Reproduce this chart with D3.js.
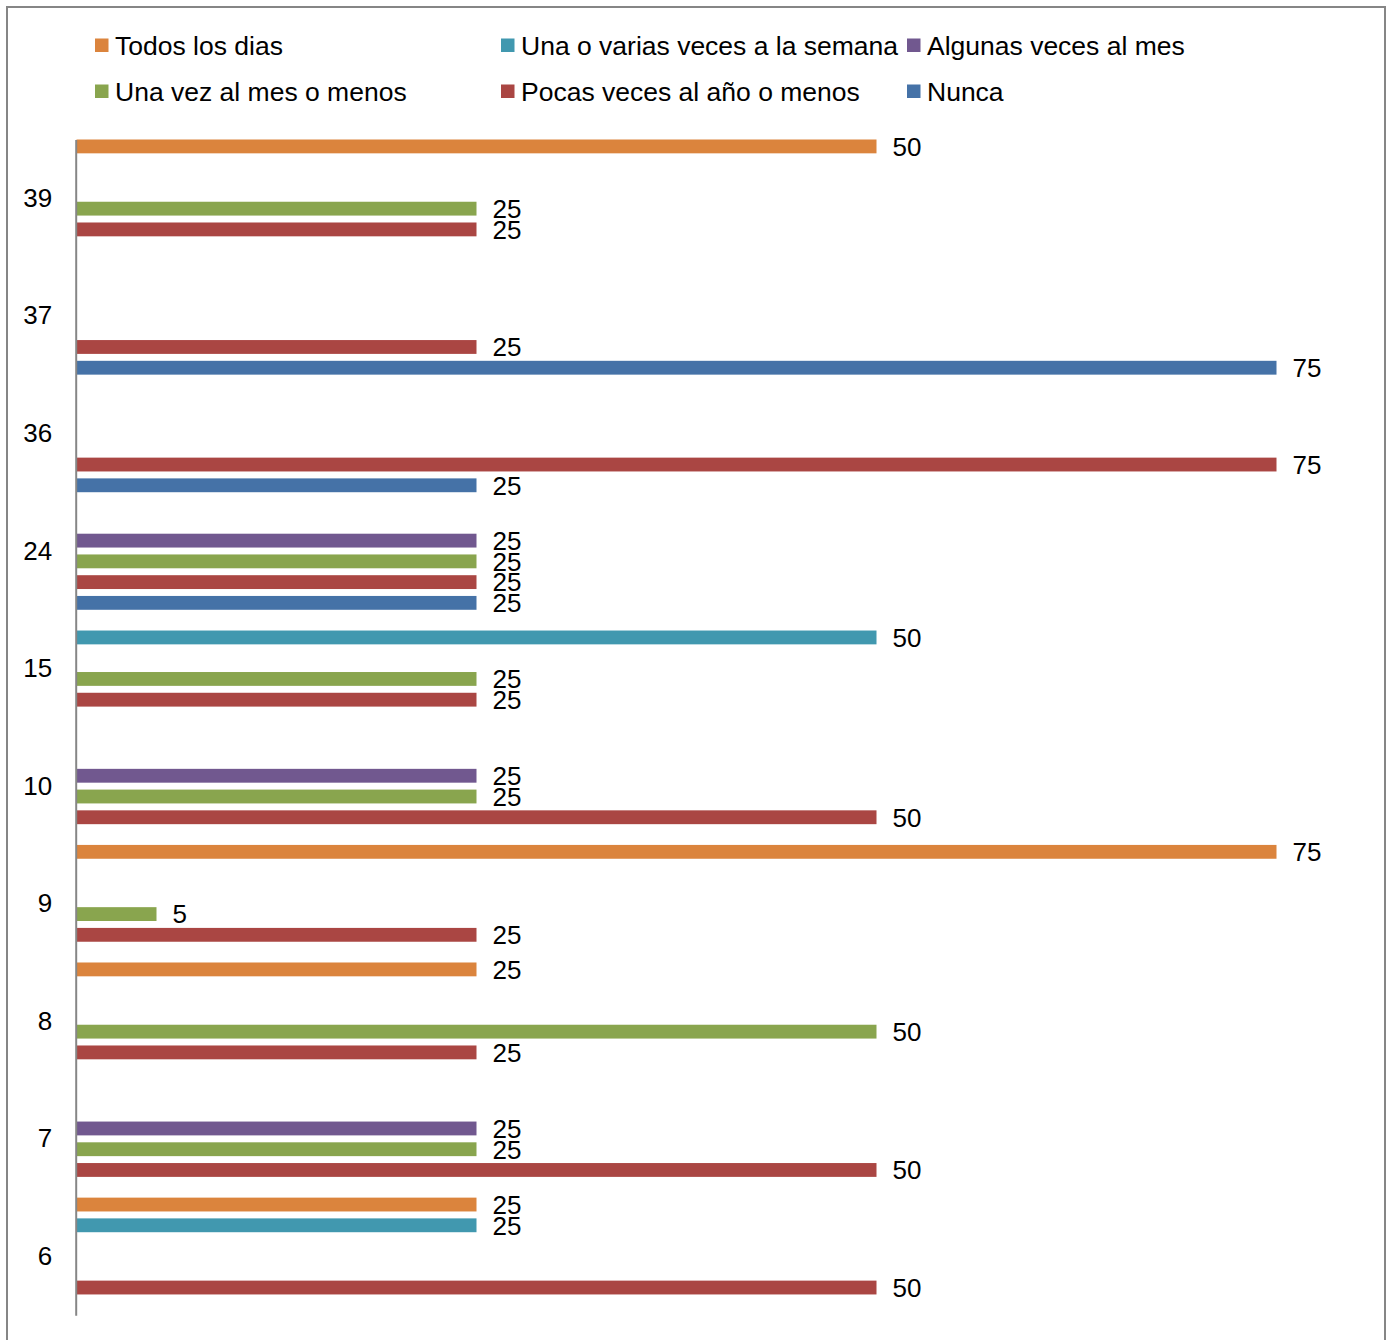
<!DOCTYPE html>
<html>
<head>
<meta charset="utf-8">
<script src="https://cdn.jsdelivr.net/npm/d3@7"></script>
<style>
  html, body { margin: 0; padding: 0; background: #ffffff; }
  svg { display: block; font-family: "Liberation Sans", Arial, sans-serif; }
</style>
</head>
<body>
<svg id="chart" width="1389" height="1340"></svg>
<script>
// Categories, listed top to bottom
const categories = ["39", "37", "36", "24", "15", "10", "9", "8", "7", "6"];

// Series names, in legend order and in order within each group (top to bottom)
const seriesNames = [
  "Todos los dias",
  "Una o varias veces a la semana",
  "Algunas veces al mes",
  "Una vez al mes o menos",
  "Pocas veces al año o menos",
  "Nunca"
];
const seriesColors = ["#DB843D", "#4198AF", "#71588F", "#89A54E", "#AA4643", "#4572A7"];

// Values per category (same order as categories); null = no bar
const todosLosDias   = [50, null, null, null, null, null, 75, 25, null, 25];
const variasSemana   = [null, null, null, null, 50, null, null, null, null, 25];
const algunasMes     = [null, null, null, 25, null, 25, null, null, 25, null];
const unaVezMes      = [25, null, null, 25, 25, 25, 5, 50, 25, null];
const pocasAnio      = [25, 25, 75, 25, 25, 50, 25, 25, 50, 50];
const nunca          = [null, 75, 25, 25, null, null, null, null, null, null];

const seriesValues = [todosLosDias, variasSemana, algunasMes, unaVezMes, pocasAnio, nunca];

const svg = d3.select("#chart");

// Outer chart frame
svg.append("rect")
  .attr("x", 7).attr("y", 7)
  .attr("width", 1378).attr("height", 1345)
  .attr("fill", "none")
  .attr("stroke", "#868686")
  .attr("stroke-width", 2);

// Scales
const x = d3.scaleLinear().domain([0, 80]).range([76.5, 1356.5]);
const y = d3.scaleBand().domain(categories).range([139.5, 1315.2]).padding(0);
const yInner = d3.scaleBand()
  .domain(seriesNames)
  .range([0, y.bandwidth()])
  .paddingInner(1 / 3)
  .paddingOuter(0);

// Flatten into bar records
const bars = [];
seriesNames.forEach((name, si) => {
  seriesValues[si].forEach((v, ci) => {
    if (v !== null && v !== undefined) {
      bars.push({ series: name, color: seriesColors[si], category: categories[ci], value: v });
    }
  });
});

const plot = svg.append("g");

plot.selectAll("rect.bar")
  .data(bars)
  .join("rect")
  .attr("class", "bar")
  .attr("x", x(0))
  .attr("y", d => y(d.category) + yInner(d.series))
  .attr("width", d => x(d.value) - x(0))
  .attr("height", yInner.bandwidth())
  .attr("fill", d => d.color);

// Value labels at the end of each bar
plot.selectAll("text.val")
  .data(bars)
  .join("text")
  .attr("class", "val")
  .attr("x", d => x(d.value) + 16)
  .attr("y", d => y(d.category) + yInner(d.series) + yInner.bandwidth() / 2)
  .attr("dy", "0.36em")
  .attr("font-size", 26)
  .attr("fill", "#000")
  .text(d => d.value);

// Category axis
const yAxis = d3.axisLeft(y).tickSizeInner(0).tickSizeOuter(0).tickPadding(23.5);
const axisG = svg.append("g")
  .attr("transform", `translate(${x(0) - 0.8},0)`)
  .call(yAxis);
axisG.select(".domain").attr("stroke", "#868686").attr("stroke-width", 2);
axisG.selectAll(".tick text")
  .attr("font-size", 26)
  .attr("font-family", "'Liberation Sans', Arial, sans-serif")
  .attr("fill", "#000")
  .attr("dy", "0.33em");

// Legend: two rows of three columns
const legend = svg.append("g");
const colX = [95, 501, 907];
const rowY = [45, 91];
seriesNames.forEach((name, i) => {
  const cx = colX[i % 3];
  const cy = rowY[Math.floor(i / 3)];
  const g = legend.append("g");
  g.append("rect")
    .attr("x", cx).attr("y", cy - 6.5)
    .attr("width", 13.5).attr("height", 13.5)
    .attr("fill", seriesColors[i]);
  g.append("text")
    .attr("x", cx + 20)
    .attr("y", cy)
    .attr("dy", "0.36em")
    .attr("font-size", 26.5)
    .attr("fill", "#000")
    .text(name);
});
</script>
</body>
</html>
